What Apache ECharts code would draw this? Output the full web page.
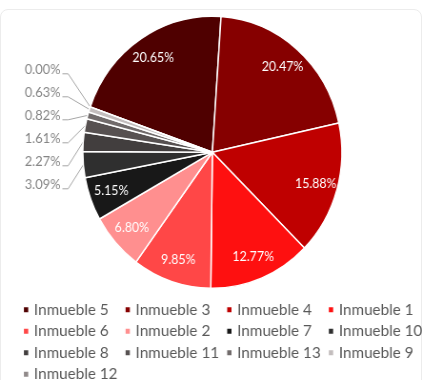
<!DOCTYPE html>
<html>
<head>
<meta charset="utf-8">
<script src="https://cdn.jsdelivr.net/npm/echarts@6/dist/echarts.min.js"></script>
<style>
  html, body { margin: 0; padding: 0; background: #ffffff; overflow: hidden; }
  #frame {
    position: absolute; left: 0; top: 9px; width: 422px; height: 420px;
    border: 1px solid #ececec; border-radius: 8px; box-sizing: border-box;
  }
  /* drawn on a slightly wider canvas, then narrowed to the 422px page */
  #chart {
    position: absolute; left: 0; top: 0; width: 443px; height: 380px;
    transform: scaleX(0.9526); transform-origin: 0 0;
  }
</style>
</head>
<body>
<div id="frame"></div>
<div id="chart"></div>
<script>
// Share of each property, in percent
const categories = [
  'Inmueble 5', 'Inmueble 3', 'Inmueble 4', 'Inmueble 1', 'Inmueble 6',
  'Inmueble 2', 'Inmueble 7', 'Inmueble 10', 'Inmueble 8', 'Inmueble 11',
  'Inmueble 13', 'Inmueble 9', 'Inmueble 12'
];
const shares = [20.65, 20.47, 15.88, 12.77, 9.85, 6.80, 5.15, 3.09, 2.27, 1.61, 0.82, 0.63, 0.00];
const palette = [
  '#4f0000', '#860000', '#bf0000', '#fe1010', '#ff4747',
  '#ff8f8f', '#181818', '#2f2f2f', '#423e3e', '#575151',
  '#716b6b', '#c3bdbd', '#908a8a'
];

// slices under this share get an outside label with a leader line
const OUTSIDE_LIMIT = 4;
const fmt = p => p.value.toFixed(2) + '%';

const CENTER = [222.9, 152.3];
const RADIUS = 136;
const START = 160.5;
const LABEL_STEP = 23;     // vertical spacing of the stacked outside labels
const FONT = 'Lato, "Open Sans", sans-serif';

// Outside labels are stacked evenly around the mean height of their slices' outer edges
const total = shares.reduce((a, b) => a + b, 0);
let cum = 0;
const edgeY = shares.map(v => {
  const mid = START - 360 * (cum + v / 2) / total;
  cum += v;
  return CENTER[1] - RADIUS * Math.sin(mid * Math.PI / 180);
});
const outsideOrder = shares
  .map((v, i) => i)
  .filter(i => shares[i] < OUTSIDE_LIMIT)
  .sort((a, b) => edgeY[a] - edgeY[b]);
const meanEdgeY = outsideOrder.reduce((s, i) => s + edgeY[i], 0) / outsideOrder.length;
const stackY = {};
outsideOrder.forEach((idx, k) => {
  stackY[idx] = meanEdgeY + (k - (outsideOrder.length - 1) / 2) * LABEL_STEP;
});

const sliceData = categories.map((name, i) => ({
  name: name,
  value: shares[i],
  itemStyle: { color: palette[i] },
  label: { show: shares[i] < OUTSIDE_LIMIT },
  labelLine: { show: shares[i] < OUTSIDE_LIMIT }
}));

const insideLabelData = categories.map((name, i) => ({
  name: name,
  value: shares[i],
  label: { show: shares[i] >= OUTSIDE_LIMIT }
}));

// legend: a grid of four columns, filled row by row
const COLUMNS = 4;
const LEGEND_LEFT = 23.1;
const LEGEND_TOP = 301.75;
const COL_PITCH = 106.7;
const ROW_GAP = 5.5;
const legends = [];
for (let c = 0; c < COLUMNS; c++) {
  legends.push({
    data: categories.filter((n, i) => i % COLUMNS === c),
    orient: 'vertical',
    icon: 'rect',
    left: LEGEND_LEFT + c * COL_PITCH,
    top: LEGEND_TOP,
    width: 105,
    height: 120,
    padding: 0,
    itemWidth: 6.5,
    itemHeight: 7,
    itemGap: ROW_GAP,
    selectedMode: false,
    textStyle: {
      fontFamily: FONT,
      fontSize: 16,
      color: '#595959'
    }
  });
}

const chart = echarts.init(document.getElementById('chart'), null, { renderer: 'canvas' });
chart.setOption({
  animation: false,
  legend: legends,
  series: [
    {
      type: 'pie',
      center: CENTER,
      radius: RADIUS,
      startAngle: START,
      clockwise: true,
      emphasis: { disabled: true },
      itemStyle: { borderColor: '#ffffff', borderWidth: 1.5 },
      label: {
        position: 'outside',
        alignTo: 'edge',
        edgeDistance: 26,
        formatter: fmt,
        fontFamily: FONT,
        fontSize: 13.5,
        color: '#858585'
      },
      labelLine: {
        length: 10,
        length2: 6,
        lineStyle: { color: '#a6a6a6', width: 1 }
      },
      labelLayout: function (p) {
        const y = stackY[p.dataIndex];
        if (y == null || !p.labelLinePoints) {
          return {};
        }
        const right = p.labelRect.x + p.labelRect.width;
        const lineY = y + 4;
        return {
          y: y,
          labelLinePoints: [p.labelLinePoints[0], [right + 8, lineY], [right + 2, lineY]]
        };
      },
      data: sliceData
    },
    {
      // transparent ring that carries the in-slice percentages
      type: 'pie',
      center: CENTER,
      radius: [84, RADIUS],
      startAngle: START,
      clockwise: true,
      silent: true,
      emphasis: { disabled: true },
      itemStyle: { color: 'rgba(0,0,0,0)', borderWidth: 0 },
      label: {
        position: 'inside',
        formatter: fmt,
        fontFamily: FONT,
        fontSize: 13,
        color: '#ffffff'
      },
      labelLine: { show: false },
      data: insideLabelData
    }
  ]
});
</script>
</body>
</html>
